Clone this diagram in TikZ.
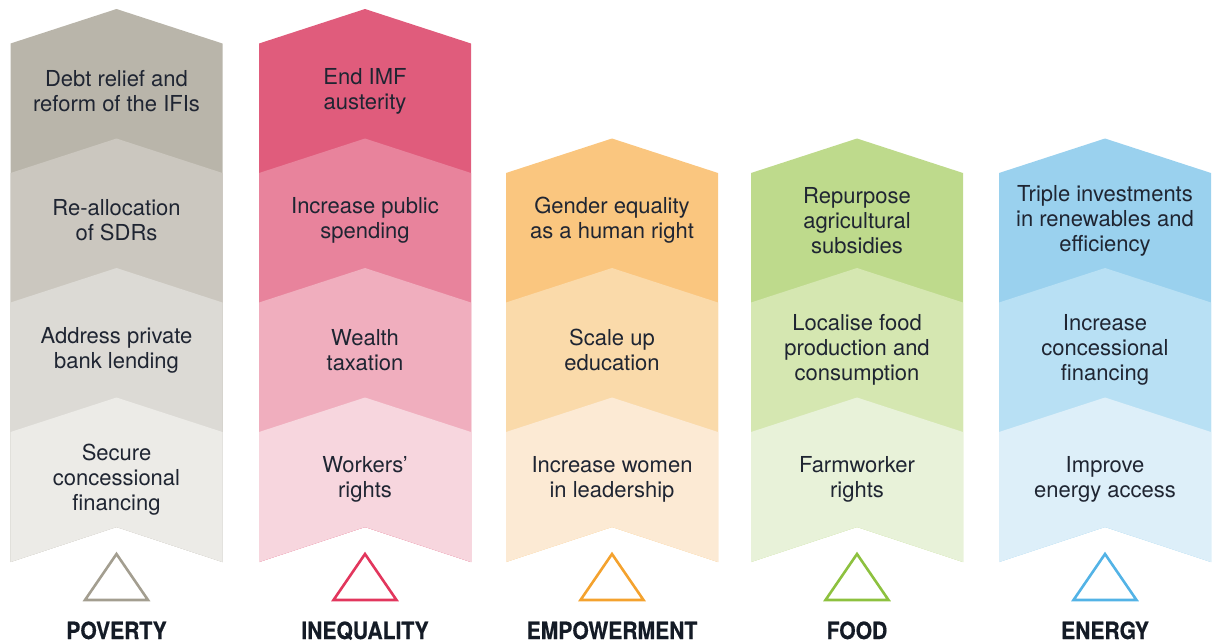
\documentclass[tikz,border=0pt]{standalone}
\usepackage{fontspec}
\setmainfont{TeX Gyre Heros}
\newfontfamily\headfont[FakeStretch=0.89,FakeBold=0.5]{TeX Gyre Heros}

% band colours, darkest at the top of each pillar
\definecolor{povA}{HTML}{B9B5AA}
\definecolor{povB}{HTML}{CBC7BF}
\definecolor{povC}{HTML}{DCDAD5}
\definecolor{povD}{HTML}{ECEBE7}
\definecolor{ineA}{HTML}{E05C7C}
\definecolor{ineB}{HTML}{E8839C}
\definecolor{ineC}{HTML}{F0AEBE}
\definecolor{ineD}{HTML}{F7D6DE}
\definecolor{empA}{HTML}{FAC67F}
\definecolor{empB}{HTML}{FADAAA}
\definecolor{empC}{HTML}{FCEAD4}
\definecolor{fooA}{HTML}{BEDA8C}
\definecolor{fooB}{HTML}{D5E7B1}
\definecolor{fooC}{HTML}{E8F2D9}
\definecolor{eneA}{HTML}{9AD1EE}
\definecolor{eneB}{HTML}{B8E0F4}
\definecolor{eneC}{HTML}{DDEFF9}
% triangle outlines
\definecolor{povT}{HTML}{A39E90}
\definecolor{ineT}{HTML}{E2365D}
\definecolor{empT}{HTML}{F4A22E}
\definecolor{fooT}{HTML}{8DC13F}
\definecolor{eneT}{HTML}{53B3E6}
\definecolor{ink}{HTML}{1F2532}
\definecolor{headink}{HTML}{141B26}

% #1 centre x, #2 peak y of the band's top edge, #3 colour.
% Each band runs down to the pillar's notched foot; the next band covers it.
\newcommand\pillarband[3]{%
  \fill[#3] ({#1-106},{#2+34.5}) -- (#1,#2) -- ({#1+106},{#2+34.5})
    -- ({#1+106},562) -- (#1,527) -- ({#1-106},562) -- cycle;}
% #1 centre x, #2 colour
\newcommand\goalmark[2]{%
  \draw[#2, line width=2.6pt, miter limit=10]
    (#1,554) -- ({#1+31.5},600) -- ({#1-31.5},600) -- cycle;}

\begin{document}
\begin{tikzpicture}[x=1pt, y=-1pt,
  step text/.style={font=\fontsize{22}{25}\selectfont, text=ink,
    align=center, inner sep=0pt, anchor=center},
  head text/.style={font=\headfont\bfseries\fontsize{23.7}{26}\selectfont,
    text=headink, anchor=base, inner sep=0pt}]
\useasboundingbox (0,0) rectangle (1214,643);

% ---- POVERTY ----
\pillarband{116.5}{9}{povA}
\pillarband{116.5}{138.5}{povB}
\pillarband{116.5}{268}{povC}
\pillarband{116.5}{397.5}{povD}
\node[step text] (pov1) at (116.5,91) {Debt relief and\\reform of the IFIs};
\node[step text] (pov2) at (116.5,220.5) {Re-allocation\\of SDRs};
\node[step text] (pov3) at (116.5,350) {Address private\\bank lending};
\node[step text] (pov4) at (116.5,479.5) {Secure\\concessional\\financing};
\goalmark{116.5}{povT}
\node[head text] (povH) at (116.5,639) {POVERTY};

% ---- INEQUALITY ----
\pillarband{365}{9}{ineA}
\pillarband{365}{138.5}{ineB}
\pillarband{365}{268}{ineC}
\pillarband{365}{397.5}{ineD}
\node[step text] (ine1) at (365,91) {End IMF\\austerity};
\node[step text] (ine2) at (365,220.5) {Increase public\\spending};
\node[step text] (ine3) at (365,350) {Wealth\\taxation};
\node[step text] (ine4) at (365,479.5) {Workers’\\rights};
\goalmark{365}{ineT}
\node[head text] (ineH) at (365,639) {INEQUALITY};

% ---- EMPOWERMENT ----
\pillarband{612}{138.5}{empA}
\pillarband{612}{268}{empB}
\pillarband{612}{397.5}{empC}
\node[step text] (emp1) at (612,220.5) {Gender equality\\as a human right};
\node[step text] (emp2) at (612,350) {Scale up\\education};
\node[step text] (emp3) at (612,479.5) {Increase women\\in leadership};
\goalmark{612}{empT}
\node[head text] (empH) at (612,639) {EMPOWERMENT};

% ---- FOOD ----
\pillarband{857}{138.5}{fooA}
\pillarband{857}{268}{fooB}
\pillarband{857}{397.5}{fooC}
\node[step text] (foo1) at (857,220.5) {Repurpose\\agricultural\\subsidies};
\node[step text] (foo2) at (857,350) {Localise food\\production and\\consumption};
\node[step text] (foo3) at (857,479.5) {Farmworker\\rights};
\goalmark{857}{fooT}
\node[head text] (fooH) at (857,639) {FOOD};

% ---- ENERGY ----
\pillarband{1105}{138.5}{eneA}
\pillarband{1105}{268}{eneB}
\pillarband{1105}{397.5}{eneC}
\node[step text] (ene1) at (1105,220.5) {Triple investments\\in renewables and\\efficiency};
\node[step text] (ene2) at (1105,350) {Increase\\concessional\\financing};
\node[step text] (ene3) at (1105,479.5) {Improve\\energy access};
\goalmark{1105}{eneT}
\node[head text] (eneH) at (1105,639) {ENERGY};
\end{tikzpicture}
\end{document}
